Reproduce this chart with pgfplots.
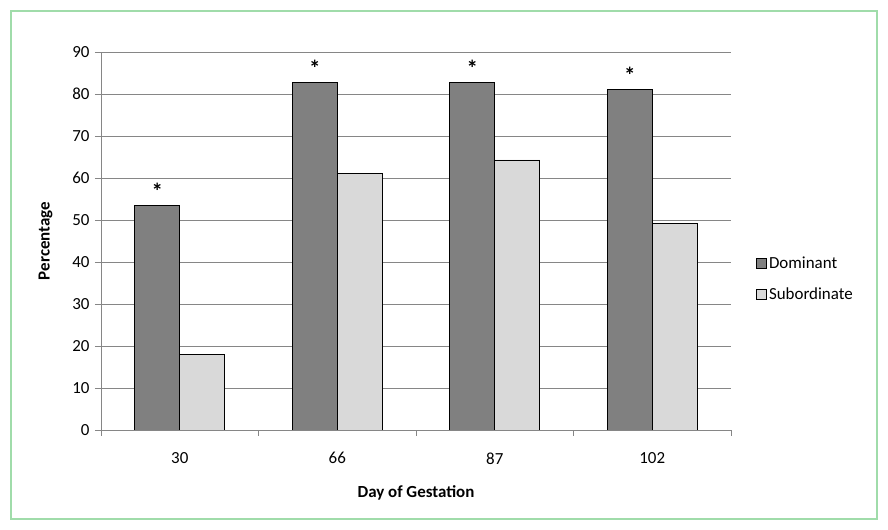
\documentclass[border=0pt]{standalone}
\usepackage{pgfplots}
\pgfplotsset{compat=1.18}
\usepackage{fontspec}
\setmainfont{Carlito}
\definecolor{darkbar}{HTML}{808080}
\definecolor{lightbar}{HTML}{D9D9D9}
\definecolor{gridc}{HTML}{868686}
\definecolor{frame}{HTML}{A0DCAA}
\begin{document}
\begin{tikzpicture}[x=1bp,y=1bp]
\useasboundingbox (-101,-100) rectangle (787,430);
\draw[frame,line width=2.5bp] (-90,-89) rectangle (776,419);
\begin{axis}[
  at={(0,0)}, anchor=south west,
  scale only axis, width=630bp, height=378bp,
  ybar=0pt, bar width=45bp,
  xmin=-0.5, xmax=3.5, ymin=0, ymax=90,
  ytick={0,10,...,90},
  xtick={0,1,2,3}, xticklabels={30,66,87,102},
  axis x line*=bottom, axis y line*=left,
  axis line style={gridc, line width=0.6bp},
  y axis line style={-}, x axis line style={-},
  major x tick style={draw=none},
  extra x ticks={-0.5,0.5,1.5,2.5,3.5},
  extra x tick labels={},
  extra x tick style={grid=none, major tick length=6bp, tick align=outside, major x tick style={draw=gridc, line width=0.6bp}},
  ymajorgrids, grid style={gridc, line width=0.6bp},
  major tick length=6bp,
  tick align=outside,
  major y tick style={draw=gridc, line width=0.6bp},
  tick label style={font=\fontsize{17}{20}\selectfont},
  /pgf/number format/assume math mode=true,
  yticklabel style={xshift=-2bp},
  xticklabel style={yshift=-13bp},
  xlabel={\textbf{Day of Gestation}},
  ylabel={\textbf{Percentage}},
  label style={font=\fontsize{17}{20}\selectfont},
  xlabel style={yshift=-3bp},
  ylabel style={yshift=13bp},
  legend style={draw=none, at={(1.035,0.40)}, anchor=west,
    font=\fontsize{17}{20}\selectfont, row sep=14bp,
    legend cell align=left},
  legend image code/.code={\draw[#1, draw=black, line width=0.8bp] (0bp,-5bp) rectangle (10bp,5bp);},
]
\addplot[fill=darkbar, draw=black, line width=0.8bp,
  nodes near coords={\textbf{*}},
  every node near coord/.append style={font=\fontsize{23}{26}\selectfont, yshift=2bp}]
  coordinates {(0,53.4) (1,82.8) (2,82.7) (3,81.1)};
\addplot[fill=lightbar, draw=black, line width=0.8bp]
  coordinates {(0,18.0) (1,61.0) (2,64.3) (3,49.2)};
\legend{Dominant, Subordinate}
\end{axis}
\end{tikzpicture}
\end{document}
